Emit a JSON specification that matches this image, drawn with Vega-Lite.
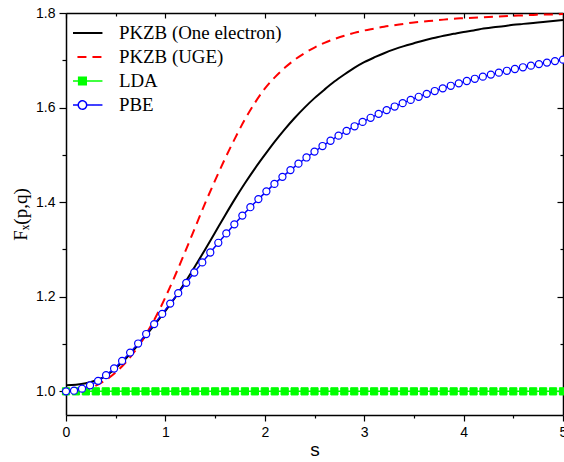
{
  "$schema": "https://vega.github.io/schema/vega-lite/v6.json",
  "width": 497,
  "height": 402,
  "autosize": {"type": "none"},
  "padding": {"left": 66, "top": 13, "right": 1, "bottom": 47},
  "background": "#ffffff",
  "config": {"view": {"stroke": null}},
  "data": {"values": [
    {"series":"PKZB (One electron)","s":0,"F":1.013},{"series":"PKZB (One electron)","s":0.1,"F":1.014},{"series":"PKZB (One electron)","s":0.2,"F":1.017},{"series":"PKZB (One electron)","s":0.3,"F":1.023},{"series":"PKZB (One electron)","s":0.4,"F":1.032},{"series":"PKZB (One electron)","s":0.5,"F":1.049},{"series":"PKZB (One electron)","s":0.6,"F":1.069},{"series":"PKZB (One electron)","s":0.7,"F":1.092},{"series":"PKZB (One electron)","s":0.8,"F":1.117},{"series":"PKZB (One electron)","s":0.9,"F":1.143},{"series":"PKZB (One electron)","s":1.0,"F":1.170},{"series":"PKZB (One electron)","s":1.1,"F":1.199},{"series":"PKZB (One electron)","s":1.2,"F":1.231},{"series":"PKZB (One electron)","s":1.3,"F":1.265},{"series":"PKZB (One electron)","s":1.4,"F":1.300},{"series":"PKZB (One electron)","s":1.5,"F":1.336},{"series":"PKZB (One electron)","s":1.6,"F":1.372},{"series":"PKZB (One electron)","s":1.7,"F":1.407},{"series":"PKZB (One electron)","s":1.8,"F":1.440},{"series":"PKZB (One electron)","s":1.9,"F":1.471},{"series":"PKZB (One electron)","s":2.0,"F":1.500},{"series":"PKZB (One electron)","s":2.1,"F":1.528},{"series":"PKZB (One electron)","s":2.2,"F":1.554},{"series":"PKZB (One electron)","s":2.3,"F":1.578},{"series":"PKZB (One electron)","s":2.4,"F":1.600},{"series":"PKZB (One electron)","s":2.5,"F":1.620},{"series":"PKZB (One electron)","s":2.6,"F":1.638},{"series":"PKZB (One electron)","s":2.7,"F":1.655},{"series":"PKZB (One electron)","s":2.8,"F":1.670},{"series":"PKZB (One electron)","s":2.9,"F":1.684},{"series":"PKZB (One electron)","s":3.0,"F":1.696},{"series":"PKZB (One electron)","s":3.1,"F":1.706},{"series":"PKZB (One electron)","s":3.2,"F":1.715},{"series":"PKZB (One electron)","s":3.3,"F":1.723},{"series":"PKZB (One electron)","s":3.4,"F":1.730},{"series":"PKZB (One electron)","s":3.5,"F":1.736},{"series":"PKZB (One electron)","s":3.6,"F":1.742},{"series":"PKZB (One electron)","s":3.7,"F":1.747},{"series":"PKZB (One electron)","s":3.8,"F":1.752},{"series":"PKZB (One electron)","s":3.9,"F":1.756},{"series":"PKZB (One electron)","s":4.0,"F":1.760},{"series":"PKZB (One electron)","s":4.1,"F":1.763},{"series":"PKZB (One electron)","s":4.2,"F":1.767},{"series":"PKZB (One electron)","s":4.3,"F":1.770},{"series":"PKZB (One electron)","s":4.4,"F":1.772},{"series":"PKZB (One electron)","s":4.5,"F":1.775},{"series":"PKZB (One electron)","s":4.6,"F":1.777},{"series":"PKZB (One electron)","s":4.7,"F":1.779},{"series":"PKZB (One electron)","s":4.8,"F":1.781},{"series":"PKZB (One electron)","s":4.9,"F":1.783},{"series":"PKZB (One electron)","s":5.0,"F":1.785},
    {"series":"PKZB (UGE)","s":0,"F":1.000},{"series":"PKZB (UGE)","s":0.1,"F":1.001},{"series":"PKZB (UGE)","s":0.2,"F":1.005},{"series":"PKZB (UGE)","s":0.3,"F":1.012},{"series":"PKZB (UGE)","s":0.4,"F":1.024},{"series":"PKZB (UGE)","s":0.5,"F":1.040},{"series":"PKZB (UGE)","s":0.6,"F":1.061},{"series":"PKZB (UGE)","s":0.7,"F":1.087},{"series":"PKZB (UGE)","s":0.8,"F":1.119},{"series":"PKZB (UGE)","s":0.9,"F":1.156},{"series":"PKZB (UGE)","s":1.0,"F":1.199},{"series":"PKZB (UGE)","s":1.1,"F":1.246},{"series":"PKZB (UGE)","s":1.2,"F":1.296},{"series":"PKZB (UGE)","s":1.3,"F":1.347},{"series":"PKZB (UGE)","s":1.4,"F":1.398},{"series":"PKZB (UGE)","s":1.5,"F":1.446},{"series":"PKZB (UGE)","s":1.6,"F":1.492},{"series":"PKZB (UGE)","s":1.7,"F":1.535},{"series":"PKZB (UGE)","s":1.8,"F":1.575},{"series":"PKZB (UGE)","s":1.9,"F":1.610},{"series":"PKZB (UGE)","s":2.0,"F":1.640},{"series":"PKZB (UGE)","s":2.1,"F":1.664},{"series":"PKZB (UGE)","s":2.2,"F":1.684},{"series":"PKZB (UGE)","s":2.3,"F":1.701},{"series":"PKZB (UGE)","s":2.4,"F":1.715},{"series":"PKZB (UGE)","s":2.5,"F":1.727},{"series":"PKZB (UGE)","s":2.6,"F":1.737},{"series":"PKZB (UGE)","s":2.7,"F":1.745},{"series":"PKZB (UGE)","s":2.8,"F":1.752},{"series":"PKZB (UGE)","s":2.9,"F":1.758},{"series":"PKZB (UGE)","s":3.0,"F":1.763},{"series":"PKZB (UGE)","s":3.1,"F":1.767},{"series":"PKZB (UGE)","s":3.2,"F":1.771},{"series":"PKZB (UGE)","s":3.3,"F":1.774},{"series":"PKZB (UGE)","s":3.4,"F":1.777},{"series":"PKZB (UGE)","s":3.5,"F":1.780},{"series":"PKZB (UGE)","s":3.6,"F":1.782},{"series":"PKZB (UGE)","s":3.7,"F":1.784},{"series":"PKZB (UGE)","s":3.8,"F":1.786},{"series":"PKZB (UGE)","s":3.9,"F":1.788},{"series":"PKZB (UGE)","s":4.0,"F":1.789},{"series":"PKZB (UGE)","s":4.1,"F":1.790},{"series":"PKZB (UGE)","s":4.2,"F":1.791},{"series":"PKZB (UGE)","s":4.3,"F":1.792},{"series":"PKZB (UGE)","s":4.4,"F":1.793},{"series":"PKZB (UGE)","s":4.5,"F":1.794},{"series":"PKZB (UGE)","s":4.6,"F":1.795},{"series":"PKZB (UGE)","s":4.7,"F":1.796},{"series":"PKZB (UGE)","s":4.8,"F":1.797},{"series":"PKZB (UGE)","s":4.9,"F":1.797},{"series":"PKZB (UGE)","s":5.0,"F":1.798},
    {"series":"LDA","s":0,"F":1},{"series":"LDA","s":0.1,"F":1},{"series":"LDA","s":0.2,"F":1},{"series":"LDA","s":0.3,"F":1},{"series":"LDA","s":0.4,"F":1},{"series":"LDA","s":0.5,"F":1},{"series":"LDA","s":0.6,"F":1},{"series":"LDA","s":0.7,"F":1},{"series":"LDA","s":0.8,"F":1},{"series":"LDA","s":0.9,"F":1},{"series":"LDA","s":1.0,"F":1},{"series":"LDA","s":1.1,"F":1},{"series":"LDA","s":1.2,"F":1},{"series":"LDA","s":1.3,"F":1},{"series":"LDA","s":1.4,"F":1},{"series":"LDA","s":1.5,"F":1},{"series":"LDA","s":1.6,"F":1},{"series":"LDA","s":1.7,"F":1},{"series":"LDA","s":1.8,"F":1},{"series":"LDA","s":1.9,"F":1},{"series":"LDA","s":2.0,"F":1},{"series":"LDA","s":2.1,"F":1},{"series":"LDA","s":2.2,"F":1},{"series":"LDA","s":2.3,"F":1},{"series":"LDA","s":2.4,"F":1},{"series":"LDA","s":2.5,"F":1},{"series":"LDA","s":2.6,"F":1},{"series":"LDA","s":2.7,"F":1},{"series":"LDA","s":2.8,"F":1},{"series":"LDA","s":2.9,"F":1},{"series":"LDA","s":3.0,"F":1},{"series":"LDA","s":3.1,"F":1},{"series":"LDA","s":3.2,"F":1},{"series":"LDA","s":3.3,"F":1},{"series":"LDA","s":3.4,"F":1},{"series":"LDA","s":3.5,"F":1},{"series":"LDA","s":3.6,"F":1},{"series":"LDA","s":3.7,"F":1},{"series":"LDA","s":3.8,"F":1},{"series":"LDA","s":3.9,"F":1},{"series":"LDA","s":4.0,"F":1},{"series":"LDA","s":4.1,"F":1},{"series":"LDA","s":4.2,"F":1},{"series":"LDA","s":4.3,"F":1},{"series":"LDA","s":4.4,"F":1},{"series":"LDA","s":4.5,"F":1},{"series":"LDA","s":4.6,"F":1},{"series":"LDA","s":4.7,"F":1},{"series":"LDA","s":4.8,"F":1},{"series":"LDA","s":4.9,"F":1},{"series":"LDA","s":5.0,"F":1},
    {"series":"PBE","s":0,"F":1.0},{"series":"PBE","s":0.0806,"F":1.0014},{"series":"PBE","s":0.1613,"F":1.0057},{"series":"PBE","s":0.2419,"F":1.0127},{"series":"PBE","s":0.3226,"F":1.0222},{"series":"PBE","s":0.4032,"F":1.0342},{"series":"PBE","s":0.4839,"F":1.0483},{"series":"PBE","s":0.5645,"F":1.0644},{"series":"PBE","s":0.6452,"F":1.0820},{"series":"PBE","s":0.7258,"F":1.1011},{"series":"PBE","s":0.8065,"F":1.1212},{"series":"PBE","s":0.8871,"F":1.1422},{"series":"PBE","s":0.9677,"F":1.1637},{"series":"PBE","s":1.0484,"F":1.1856},{"series":"PBE","s":1.129,"F":1.2076},{"series":"PBE","s":1.2097,"F":1.2295},{"series":"PBE","s":1.2903,"F":1.2513},{"series":"PBE","s":1.371,"F":1.2727},{"series":"PBE","s":1.4516,"F":1.2936},{"series":"PBE","s":1.5323,"F":1.3141},{"series":"PBE","s":1.6129,"F":1.3339},{"series":"PBE","s":1.6935,"F":1.3531},{"series":"PBE","s":1.7742,"F":1.3716},{"series":"PBE","s":1.8548,"F":1.3894},{"series":"PBE","s":1.9355,"F":1.4065},{"series":"PBE","s":2.0161,"F":1.4229},{"series":"PBE","s":2.0968,"F":1.4386},{"series":"PBE","s":2.1774,"F":1.4536},{"series":"PBE","s":2.2581,"F":1.4679},{"series":"PBE","s":2.3387,"F":1.4815},{"series":"PBE","s":2.4194,"F":1.4945},{"series":"PBE","s":2.5,"F":1.5069},{"series":"PBE","s":2.5806,"F":1.5187},{"series":"PBE","s":2.6613,"F":1.5299},{"series":"PBE","s":2.7419,"F":1.5406},{"series":"PBE","s":2.8226,"F":1.5508},{"series":"PBE","s":2.9032,"F":1.5605},{"series":"PBE","s":2.9839,"F":1.5697},{"series":"PBE","s":3.0645,"F":1.5784},{"series":"PBE","s":3.1452,"F":1.5868},{"series":"PBE","s":3.2258,"F":1.5947},{"series":"PBE","s":3.3065,"F":1.6022},{"series":"PBE","s":3.3871,"F":1.6094},{"series":"PBE","s":3.4677,"F":1.6163},{"series":"PBE","s":3.5484,"F":1.6228},{"series":"PBE","s":3.629,"F":1.6291},{"series":"PBE","s":3.7097,"F":1.635},{"series":"PBE","s":3.7903,"F":1.6407},{"series":"PBE","s":3.871,"F":1.6461},{"series":"PBE","s":3.9516,"F":1.6512},{"series":"PBE","s":4.0323,"F":1.6562},{"series":"PBE","s":4.1129,"F":1.6609},{"series":"PBE","s":4.1935,"F":1.6654},{"series":"PBE","s":4.2742,"F":1.6697},{"series":"PBE","s":4.3548,"F":1.6739},{"series":"PBE","s":4.4355,"F":1.6778},{"series":"PBE","s":4.5161,"F":1.6816},{"series":"PBE","s":4.5968,"F":1.6852},{"series":"PBE","s":4.6774,"F":1.6887},{"series":"PBE","s":4.7581,"F":1.692},{"series":"PBE","s":4.8387,"F":1.6952},{"series":"PBE","s":4.9194,"F":1.6983},{"series":"PBE","s":5.0,"F":1.7013}
  ]},
  "layer": [
    {
      "transform": [{"filter": "datum.series === 'PKZB (One electron)'"}],
      "mark": {"type": "line", "strokeWidth": 2, "interpolate": "monotone"},
      "encoding": {
        "x": {"field": "s", "type": "quantitative", "scale": {"domain": [0, 5], "nice": false, "zero": false},
          "axis": {"orient": "bottom", "values": [0,0.5,1,1.5,2,2.5,3,3.5,4,4.5,5],
            "labelExpr": "datum.value % 1 === 0 ? format(datum.value, 'd') : ''",
            "tickSize": {"condition": {"test": "datum.value % 1 === 0", "value": 6}, "value": 3},
            "title": "s", "titleFont": "Liberation Sans", "titleFontSize": 19, "titleFontWeight": "normal", "titleColor": "#000000", "titlePadding": 1,
            "labelFont": "Liberation Sans", "labelFontSize": 14, "labelColor": "#000000", "labelPadding": 4, "labelFlush": false, "labelOverlap": false,
            "domainColor": "#000000", "domainWidth": 1.5, "tickColor": "#000000", "tickWidth": 1.2, "grid": false}},
        "y": {"field": "F", "type": "quantitative", "scale": {"domain": [0.95, 1.8], "nice": false, "zero": false},
          "axis": {"orient": "left", "values": [1.0,1.1,1.2,1.3,1.4,1.5,1.6,1.7,1.8],
            "labelExpr": "round(datum.value * 10) % 2 === 0 ? format(datum.value, '.1f') : ''",
            "tickSize": {"condition": {"test": "round(datum.value * 10) % 2 === 0", "value": 7}, "value": 4},
            "title": "Fₓ(p,q)", "titleFont": "Liberation Serif", "titleFontSize": 19, "titleFontWeight": "normal", "titleColor": "#000000", "titlePadding": 5,
            "labelFont": "Liberation Sans", "labelFontSize": 14, "labelColor": "#000000", "labelPadding": 4, "labelOverlap": false,
            "domainColor": "#000000", "domainWidth": 1.5, "tickColor": "#000000", "tickWidth": 1.2, "grid": false}},
        "color": {"field": "series", "type": "nominal",
          "scale": {"domain": ["PKZB (One electron)", "PKZB (UGE)", "LDA", "PBE"], "range": ["#000000", "#ff0000", "#00ff00", "#0000ff"]},
          "legend": {"title": null, "orient": "none", "legendX": 7, "legendY": 11, "direction": "vertical",
            "symbolSize": 1600, "clipHeight": 18, "rowPadding": 5, "padding": 0, "labelOffset": 27, "labelLimit": 400,
            "labelFont": "Liberation Serif", "labelFontSize": 18.9, "labelColor": "#000000", "symbolStrokeWidth": 2,
            "encode": {"symbols": {"update": {
              "shape": {"signal": "datum.value === 'LDA' ? 'M-1,0H1M-0.19,-0.19H0.19V0.19H-0.19Z' : datum.value === 'PBE' ? 'M-1,0H-0.21M0.21,0H1M-0.21,0A0.21,0.21,0,1,1,0.21,0A0.21,0.21,0,1,1,-0.21,0Z' : 'M-1,0H1'"},
              "fill": {"signal": "datum.value === 'LDA' ? '#00ff00' : datum.value === 'PBE' ? '#ffffff' : 'transparent'"},
              "stroke": {"signal": "datum.value === 'PKZB (One electron)' ? '#000000' : datum.value === 'PKZB (UGE)' ? '#ff0000' : datum.value === 'LDA' ? '#00ff00' : '#0000ff'"},
              "strokeDash": {"signal": "datum.value === 'PKZB (UGE)' ? [9,6] : [1,0]"},
              "strokeWidth": {"signal": "datum.value === 'PBE' || datum.value === 'LDA' ? 1.5 : 2"},
              "size": {"value": 1600},
              "opacity": {"value": 1}
            }}}}}
      }
    },
    {
      "transform": [{"filter": "datum.series === 'PKZB (UGE)'"}],
      "mark": {"type": "line", "strokeWidth": 2, "strokeDash": [9, 6], "interpolate": "monotone"},
      "encoding": {
        "x": {"field": "s", "type": "quantitative", "scale": {"domain": [0, 5], "nice": false, "zero": false},
          "axis": {"orient": "top", "values": [0,0.5,1,1.5,2,2.5,3,3.5,4,4.5,5], "labels": false, "title": null,
            "tickSize": {"condition": {"test": "datum.value % 1 === 0", "value": -5}, "value": -3},
            "domainColor": "#000000", "domainWidth": 1.5, "tickColor": "#000000", "tickWidth": 1.2, "grid": false}},
        "y": {"field": "F", "type": "quantitative", "scale": {"domain": [0.95, 1.8], "nice": false, "zero": false},
          "axis": {"orient": "right", "values": [1.0,1.1,1.2,1.3,1.4,1.5,1.6,1.7,1.8], "labels": false, "title": null,
            "tickSize": {"condition": {"test": "round(datum.value * 10) % 2 === 0", "value": -6}, "value": -3},
            "domainColor": "#000000", "domainWidth": 1.5, "tickColor": "#000000", "tickWidth": 1.2, "grid": false}},
        "color": {"field": "series", "type": "nominal",
          "scale": {"domain": ["PKZB (One electron)", "PKZB (UGE)", "LDA", "PBE"], "range": ["#000000", "#ff0000", "#00ff00", "#0000ff"]}}
      }
    },
    {
      "transform": [{"filter": "datum.series === 'LDA'"}],
      "mark": {"type": "line", "strokeWidth": 1.5},
      "encoding": {
        "x": {"field": "s", "type": "quantitative", "axis": null},
        "y": {"field": "F", "type": "quantitative", "axis": null},
        "color": {"field": "series", "type": "nominal",
          "scale": {"domain": ["PKZB (One electron)", "PKZB (UGE)", "LDA", "PBE"], "range": ["#000000", "#ff0000", "#00ff00", "#0000ff"]}}
      }
    },
    {
      "transform": [{"filter": "datum.series === 'LDA'"}],
      "mark": {"type": "point", "shape": "square", "filled": true, "size": 52, "color": "#00ff00", "stroke": "#00ff00", "strokeWidth": 1, "opacity": 1},
      "encoding": {
        "x": {"field": "s", "type": "quantitative", "axis": null},
        "y": {"field": "F", "type": "quantitative", "axis": null}
      }
    },
    {
      "transform": [{"filter": "datum.series === 'PBE'"}],
      "mark": {"type": "line", "strokeWidth": 1.5},
      "encoding": {
        "x": {"field": "s", "type": "quantitative", "axis": null},
        "y": {"field": "F", "type": "quantitative", "axis": null},
        "color": {"field": "series", "type": "nominal",
          "scale": {"domain": ["PKZB (One electron)", "PKZB (UGE)", "LDA", "PBE"], "range": ["#000000", "#ff0000", "#00ff00", "#0000ff"]}}
      }
    },
    {
      "transform": [{"filter": "datum.series === 'PBE'"}],
      "mark": {"type": "point", "shape": "circle", "filled": false, "fill": "#ffffff", "stroke": "#0000ff", "strokeWidth": 1.2, "size": 50, "opacity": 1},
      "encoding": {
        "x": {"field": "s", "type": "quantitative", "axis": null},
        "y": {"field": "F", "type": "quantitative", "axis": null}
      }
    }
  ],
  "resolve": {"axis": {"x": "independent", "y": "independent"}}
}
